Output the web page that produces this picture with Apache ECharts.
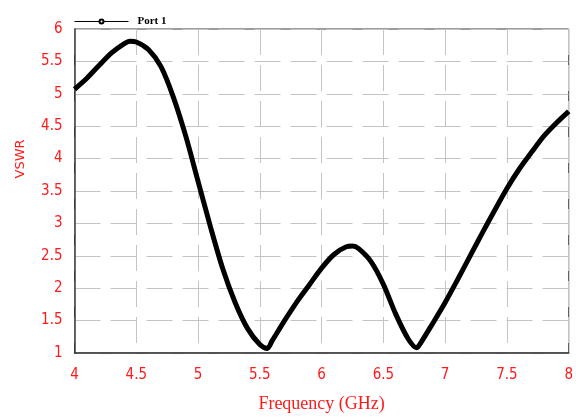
<!DOCTYPE html>
<html>
<head>
<meta charset="utf-8">
<script src="https://cdn.jsdelivr.net/npm/echarts@6/dist/echarts.min.js"></script>
<style>
html,body{margin:0;padding:0;background:#fff;}
#chart{width:576px;height:418px;}
</style>
</head>
<body>
<div id="chart"></div>
<script>
const freqGHz = [4.0, 4.1, 4.2, 4.3, 4.4, 4.45, 4.5, 4.6, 4.7, 4.8, 4.9, 5.0, 5.1, 5.2, 5.3, 5.4, 5.5, 5.56, 5.6, 5.7, 5.8, 5.9, 6.0, 6.1, 6.2, 6.25, 6.3, 6.4, 6.5, 6.6, 6.7, 6.77, 6.8, 6.9, 7.0, 7.1, 7.2, 7.3, 7.4, 7.5, 7.6, 7.7, 7.8, 7.9, 8.0];
const vswr = [5.07, 5.24, 5.44, 5.63, 5.77, 5.81, 5.8, 5.68, 5.42, 4.95, 4.35, 3.65, 2.95, 2.3, 1.78, 1.38, 1.13, 1.07, 1.19, 1.5, 1.79, 2.05, 2.31, 2.52, 2.64, 2.65, 2.61, 2.41, 2.06, 1.6, 1.22, 1.08, 1.15, 1.46, 1.78, 2.13, 2.49, 2.85, 3.2, 3.54, 3.84, 4.1, 4.35, 4.55, 4.73];
const seriesName = 'Port 1';
const xTitle = 'Frequency (GHz)';
const yTitle = 'VSWR';

const points = freqGHz.map((f, i) => [f, vswr[i]]);
const red = '#ff1a1a';
const gridLine = { show: true, lineStyle: { color: '#c4c4c4', width: 1, type: [26, 10] } };

const chart = echarts.init(document.getElementById('chart'), null, { renderer: 'canvas' });
chart.setOption({
  animation: false,
  backgroundColor: '#ffffff',
  grid: { left: 74.5, right: 1, top: 29, bottom: 58, show: true, borderColor: '#3a3a3a', borderWidth: 1, containLabel: false },
  legend: {
    left: 69, top: 11,
    itemWidth: 54, itemHeight: 5,
    data: [seriesName],
    lineStyle: { width: 1, color: '#000' },
    itemStyle: { color: '#000', borderColor: '#000', borderWidth: 1 },
    textStyle: { fontFamily: 'Liberation Serif', fontWeight: 'bold', fontSize: 11, color: '#000', padding: [0, 0, 0, 4] }
  },
  xAxis: {
    type: 'value', min: 4, max: 8, interval: 0.5,
    name: xTitle, nameLocation: 'middle', nameGap: 42,
    nameTextStyle: { fontFamily: 'Liberation Serif', fontSize: 18, color: red },
    axisLine: { show: true, lineStyle: { color: '#3a3a3a', width: 1.5 } },
    axisTick: { show: false },
    axisLabel: { margin: 15, fontFamily: 'DejaVu Sans Condensed', fontSize: 15, color: red },
    splitLine: gridLine
  },
  yAxis: {
    type: 'value', min: 1, max: 6, interval: 0.5,
    name: yTitle, nameLocation: 'middle', nameGap: 47, nameRotate: 90,
    nameTextStyle: { fontFamily: 'DejaVu Sans', fontSize: 13, color: red, padding: [0, 0, 0, 64] },
    axisLine: { show: true, lineStyle: { color: '#3a3a3a', width: 1.5 } },
    axisTick: { show: false },
    axisLabel: { margin: 12, fontFamily: 'DejaVu Sans Condensed', fontSize: 15, color: red },
    splitLine: gridLine
  },
  series: [{
    name: seriesName, type: 'line', data: points,
    smooth: 0.3, symbol: 'emptyCircle', symbolSize: 5, showSymbol: false,
    lineStyle: { color: '#000', width: 5 },
    itemStyle: { color: '#000' }
  }]
});
</script>
</body>
</html>
